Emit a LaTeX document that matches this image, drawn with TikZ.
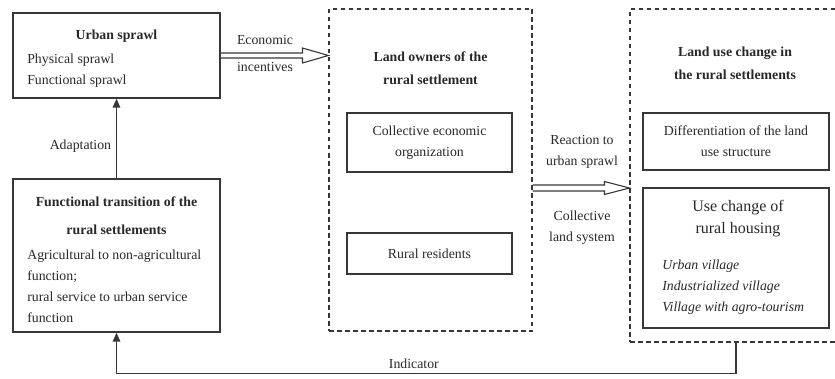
\documentclass[tikz,border=0pt]{standalone}
\usepackage{fontspec}
\setmainfont{Liberation Serif}
\usetikzlibrary{positioning, arrows.meta, calc}
\definecolor{line_gray}{RGB}{55, 55, 55}
\definecolor{text_gray}{RGB}{40, 40, 40}
\tikzstyle{solidbox}=[draw=line_gray, line width=1.3pt, inner sep=0pt, align=center]
\tikzstyle{dashbox}=[draw=line_gray, line width=1.1pt, dash pattern=on 4.5pt off 3.5pt, inner sep=0pt]
\tikzstyle{flowline}=[draw=line_gray, line width=1.6pt, -{Triangle[length=9pt, width=7.5pt]}]
\tikzstyle{hollowarrow}=[draw=line_gray, line width=1.1pt, line join=miter]
\tikzstyle{titletext}=[font=\bfseries, align=center]
\tikzstyle{bodytext}=[align=left, anchor=west]

\begin{document}
\fontsize{13.8}{21}\selectfont
\begin{tikzpicture}[x=1pt, y=1pt, text=text_gray]
            \clip (0,0) rectangle (835,378);
            \node[solidbox, minimum width=207, minimum height=85] (urban) at (116.5,322.5) {};
            \node[titletext] (urban_title) at (116.5,342) {Urban sprawl};
            \node[bodytext] (urban_body) at (22.5,307.5) {Physical sprawl\\Functional sprawl};

            \node[solidbox, minimum width=207, minimum height=153] (trans) at (116.5,122.5) {};
            \node[titletext] (trans_title) at (116.5,162) {Functional transition of the\\[7pt]rural settlements};
            \node[bodytext] (trans_body) at (22.5,91.5) {Agricultural to non-agricultural\\function;\\rural service to urban service\\function};

            \node[dashbox, minimum width=203, minimum height=322] (owners) at (430.5,208) {};
            \node[titletext] (owners_title) at (430.5,309.5) {Land owners of the\\[2pt]rural settlement};
            \node[solidbox, minimum width=165, minimum height=59] (collective) at (429.5,235.5) {Collective economic\\organization};
            \node[solidbox, minimum width=165, minimum height=41] (residents) at (429.5,124.5) {Rural residents};

            \node[dashbox, minimum width=212, minimum height=333] (change) at (736,202.5) {};
            \node[titletext] (change_title) at (735,314.5) {Land use change in\\[2pt]the rural settlements};
            \node[solidbox, minimum width=186, minimum height=57] (differ) at (736,236.5) {Differentiation of the land\\use structure};
            \node[solidbox, minimum width=186, minimum height=140] (housing) at (736,120) {};
            \node[font=\fontsize{16}{22}\selectfont, align=center] (housing_title) at (738,159) {Use change of\\rural housing};
            \node[bodytext, font=\itshape] (housing_body) at (657.5,90.5) {Urban village\\Industrialized village\\Village with agro-tourism};

            \draw[flowline] (trans.north) -- node[pos=0.4, left] (adapt_label) {Adaptation} (urban.south);
            \draw[flowline] (change.south) -- ++(0,-31) -| node[pos=0.26, above] (indicator_label) {Indicator} (trans.south);

            \coordinate (econ_tip) at (owners.west |- urban.east);
            \draw[hollowarrow] ($(urban.east)+(0,2.5)$) -- ($(econ_tip)+(-26,2.5)$) -- ($(econ_tip)+(-26,7.5)$) -- (econ_tip)
                -- ($(econ_tip)+(-26,-7.5)$) -- ($(econ_tip)+(-26,-2.5)$) -- ($(urban.east)+(0,-2.5)$);
            \node (econ_label_a) at (265,338) {Economic};
            \node (econ_label_b) at (265,311) {incentives};

            \coordinate (react_tail) at (owners.east |- 0,190);
            \coordinate (react_tip) at (change.west |- react_tail);
            \draw[hollowarrow] ($(react_tail)+(0,3)$) -- ($(react_tip)+(-25,3)$) -- ($(react_tip)+(-25,6.5)$) -- (react_tip)
                -- ($(react_tip)+(-25,-6.5)$) -- ($(react_tip)+(-25,-3)$) -- ($(react_tail)+(0,-3)$);
            \node[align=center] (react_label) at (582,226) {Reaction to\\urban sprawl};
            \node[align=center] (land_label) at (582,150.5) {Collective\\land system};
        \end{tikzpicture}
\end{document}
